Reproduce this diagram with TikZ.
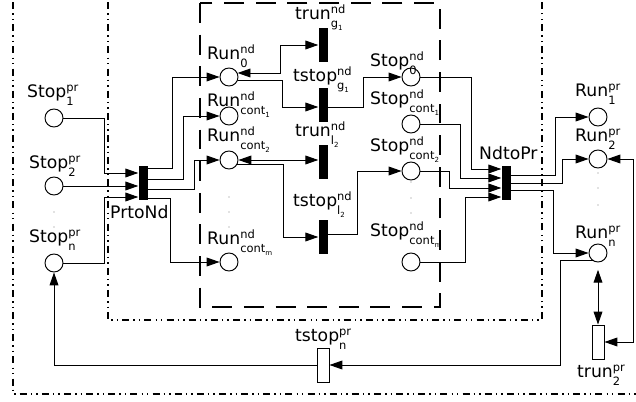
\documentclass[tikz,border=0pt]{standalone}
\usepackage{fontspec}
\setmainfont{DejaVu Sans}
\usetikzlibrary{arrows.meta}
\tikzset{place/.style = {draw, circle, line width=0.8pt, fill=white, inner sep=0, minimum size=0.54cm}}
\tikzset{bar/.style = {fill, rectangle, inner sep=0, minimum width=0.27cm, minimum height=1.04cm}}
\tikzset{wbar/.style = {draw, fill=white, rectangle, line width=0.8pt, inner sep=0, minimum width=0.36cm, minimum height=1.02cm}}
\tikzset{flow/.style = {-{Triangle[length=11pt,width=7.5pt]}, line width=0.8pt}}
\tikzset{flows/.style = {{Triangle[length=11pt,width=7.5pt]}-{Triangle[length=11pt,width=7.5pt]}, line width=0.8pt}}
\tikzset{lbl/.style = {anchor=base west, inner sep=0, font=\fontsize{14.7}{17}\selectfont}}
\tikzset{dashdot/.style = {line width=1.5pt, dash pattern=on 6pt off 3.5pt on 1.2pt off 3.5pt on 1.2pt off 3.5pt}}
\tikzset{dashbox/.style = {line width=1.5pt, dash pattern=on 17pt off 10pt}}
\tikzset{dotfill/.style = {fill=gray}}
\newcommand{\plab}[3]{#1{\fontsize{9.8}{9.8}\selectfont\ooalign{\raisebox{5.3pt}{#2}\cr\raisebox{-6.8pt}{#3}\cr}}}
\newcommand{\ixs}[2]{#1\raisebox{-2pt}{\fontsize{6}{6}\selectfont #2}}

\begin{document}
\begin{tikzpicture}[x=0.03cm, y=-0.03cm]
    \useasboundingbox (0,0) rectangle (636,402);
    \clip (0,0) rectangle (636,402);
    % boxes
    \draw[dashdot] (13,-20) rectangle (660,394);
    \draw[dashdot] (108,-20) rectangle (542,320);
    \draw[dashbox] (200,3) rectangle (440,307);

    % places and transitions
    \node[place] (sp1) at (54,118) {};
    \node[place] (sp2) at (54,186) {};
    \node[place] (spn) at (54,263) {};
    \node[bar] (PrtoNd) at (143,183) {};
    \node[place] (rn0) at (229,77) {};
    \node[place] (rnc1) at (229,116) {};
    \node[place] (rnc2) at (229,160) {};
    \node[place] (rncm) at (229,262) {};
    \node[bar] (trg) at (323,45) {};
    \node[bar] (tsg) at (323,105) {};
    \node[bar] (trl) at (323,162) {};
    \node[bar] (tsl) at (323,237) {};
    \node[place] (sn0) at (411,77) {};
    \node[place] (snc1) at (411,124) {};
    \node[place] (snc2) at (411,171) {};
    \node[place] (sncm) at (411,262) {};
    \node[bar] (NdtoPr) at (506,183) {};
    \node[place] (rp1) at (598,117) {};
    \node[place] (rp2) at (598,159) {};
    \node[place] (rpn) at (598,253) {};
    \node[wbar] (trp) at (598,342) {};
    \node[wbar] (tsp) at (323,365) {};

    \foreach \y in {212,227} \fill[dotfill] (54,\y) circle (0.6pt);
    \foreach \y in {197,212,227} \fill[dotfill] (229,\y) circle (0.6pt);
    \foreach \y in {182,198,213} \fill[dotfill] (411,\y) circle (0.6pt);
    \foreach \y in {173,188,205} \fill[dotfill] (598,\y) circle (0.6pt);

    % labels
    \node[lbl] (lsp1) at (27,98) {\plab{Stop}{pr}{1}};
    \node[lbl] (lsp2) at (29,169) {\plab{Stop}{pr}{2}};
    \node[lbl] (lspn) at (29,243) {\plab{Stop}{pr}{n}};
    \node[lbl] (lPrtoNd) at (110,219) {PrtoNd};
    \node[lbl] (lrn0) at (207,60) {\plab{Run}{nd}{0}};
    \node[lbl] (lrnc1) at (207,107) {\plab{Run}{nd}{\ixs{cont}{1}}};
    \node[lbl] (lrnc2) at (207,142) {\plab{Run}{nd}{\ixs{cont}{2}}};
    \node[lbl] (lrncm) at (207,245) {\plab{Run}{nd}{\ixs{cont}{m}}};
    \node[lbl] (ltrg) at (295,20) {\plab{trun}{nd}{\ixs{g}{1}}};
    \node[lbl] (ltsg) at (293,82) {\plab{tstop}{nd}{\ixs{g}{1}}};
    \node[lbl] (ltrl) at (295,137) {\plab{trun}{nd}{\ixs{l}{2}}};
    \node[lbl] (ltsl) at (293,207) {\plab{tstop}{nd}{\ixs{l}{2}}};
    \node[lbl] (lsn0) at (370,67) {\plab{Stop}{nd}{0}};
    \node[lbl] (lsnc1) at (370,105) {\plab{Stop}{nd}{\ixs{cont}{1}}};
    \node[lbl] (lsnc2) at (370,152) {\plab{Stop}{nd}{\ixs{cont}{2}}};
    \node[lbl] (lsncm) at (370,237) {\plab{Stop}{nd}{\ixs{cont}{m}}};
    \node[lbl] (lNdtoPr) at (479,160) {NdtoPr};
    \node[lbl] (lrp1) at (575,97) {\plab{Run}{pr}{1}};
    \node[lbl] (lrp2) at (575,142) {\plab{Run}{pr}{2}};
    \node[lbl] (lrpn) at (575,239) {\plab{Run}{pr}{n}};
    \node[lbl] (ltsp) at (295,342) {\plab{tstop}{pr}{n}};
    \node[lbl] (ltrp) at (577,378) {\plab{trun}{pr}{2}};

    % arcs into PrtoNd
    \draw[flow] (sp1.east) -| (104,173) -- (PrtoNd.west |- 0,173);
    \draw[flow] (sp2.east) -- (PrtoNd.west |- sp2);
    \draw[flow] (spn.east) -| (104,197) -- (PrtoNd.west |- 0,197);
    % arcs out of PrtoNd
    \draw[flow] (PrtoNd.east |- 0,168) -| (172,77) -- (rn0);
    \draw[flow] (PrtoNd.east |- 0,179) -| (183,116) -- (rnc1);
    \draw[flow] (PrtoNd.east |- 0,189) -| (194,160) -- (rnc2);
    \draw[flow] (PrtoNd.east |- 0,198) -| (170,262) -- (rncm);
    % inner net
    \draw[flows] (rn0.25) -| (280,45) -- (trg.west |- 0,45);
    \draw[flow] (rn0.-20) -| (282,107) -- (tsg.west |- 0,107);
    \draw[flow] (tsg.east |- 0,107) -| (363,77) -- (sn0);
    \draw[flows] (rnc2) -- (trl.west |- rnc2);
    \draw[flow] (rnc2.-30) -| (283,237) -- (tsl.west |- 0,237);
    \draw[flow] (tsl.east |- 0,234) -| (357,171) -- (snc2);
    % arcs into NdtoPr
    \draw[flow] (sn0.east) -| (471,169) -- (NdtoPr.west |- 0,169);
    \draw[flow] (snc1.east) -| (460,178) -- (NdtoPr.west |- 0,178);
    \draw[flow] (snc2.east) -| (449,188) -- (NdtoPr.west |- 0,188);
    \draw[flow] (sncm.east) -| (465,197) -- (NdtoPr.west |- 0,197);
    % arcs out of NdtoPr
    \draw[flow] (NdtoPr.east |- 0,175) -| (555,117) -- (rp1);
    \draw[flow] (NdtoPr.east |- 0,183) -| (562,159) -- (rp2);
    \draw[flow] (NdtoPr.east |- 0,190) -| (553,253) -- (rpn);
    % process level
    \draw[flows, shorten <=0.22cm] (rpn) -- (trp);
    \draw[flows] (rp2.east) -| (633,342) -- (trp.east |- 0,342);
    \draw[flow] (rpn.-125) -| (560,365) -- (tsp.east |- 0,365);
    \draw[flow] (tsp.west) -| (spn);
\end{tikzpicture}
\end{document}
